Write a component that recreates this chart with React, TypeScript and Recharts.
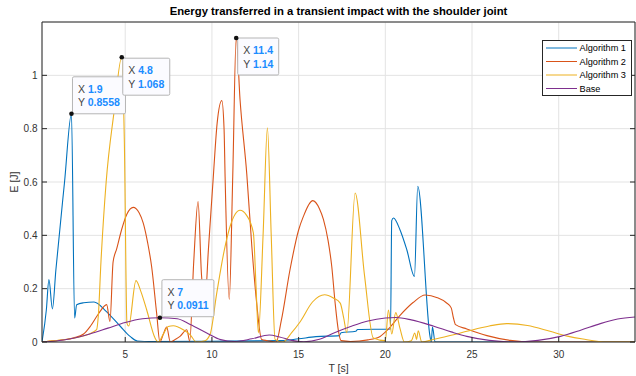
import React from 'react';
import { LineChart, Line, XAxis, YAxis, CartesianGrid, ReferenceDot } from 'recharts';

// axes
const X_DOMAIN: [number, number] = [0.2, 34.4];
const X_TICKS = [5, 10, 15, 20, 25, 30];
const Y_DOMAIN: [number, number] = [0, 1.2];
const Y_TICKS = [0, 0.2, 0.4, 0.6, 0.8, 1];

// [T (s), E (J)]
const ALGORITHM_1: [number, number][] = [
  [0.2, 0], [0.45, 0.12], [0.6, 0.234], [0.8, 0.124], [1.0, 0.27], [1.5, 0.6], [1.9, 0.8558],
  [2.08, 0.09], [2.2, 0.14], [2.6, 0.147], [3.2, 0.15], [3.9, 0.115], [4.7, 0.06], [5.3, 0.02],
  [5.7, 0.004], [6.5, 0.002], [10, 0.003], [14, 0.005], [15, 0.012], [16, 0.02], [17.35, 0.024],
  [17.45, 0.035], [18.3, 0.04], [18.4, 0.047], [20.3, 0.049], [20.37, 0.455], [20.47, 0.465],
  [20.85, 0.42], [21.24, 0.346], [21.68, 0.246], [21.87, 0.584], [22.58, 0.02], [22.65, 0],
  [22.72, 0.056], [22.87, 0], [34.4, 0],
];

const ALGORITHM_2: [number, number][] = [
  [0.2, 0], [1, 0.005], [2, 0.015], [2.6, 0.03], [3.0, 0.06], [3.45, 0.105], [3.93, 0.14],
  [4.12, 0.077], [4.3, 0.3], [4.51, 0.35], [4.79, 0.421], [5.1, 0.48], [5.46, 0.505], [5.8, 0.485],
  [6.04, 0.446], [6.3, 0.37], [6.52, 0.284], [6.81, 0.109], [7.0, 0], [7.2, 0.03], [7.39, 0.056],
  [7.6, 0], [7.9, 0.01], [8.16, 0.021], [8.55, 0.046], [8.72, 0.003], [8.95, 0.3], [9.2, 0.527],
  [9.4, 0.25], [9.6, 0.155], [9.8, 0.35], [10.08, 0.62], [10.3, 0.82], [10.57, 0.905], [10.7, 0.8],
  [10.76, 0.62], [11.0, 0.16], [11.2, 0.62], [11.4, 1.14], [11.62, 0.91], [12.01, 0.63],
  [12.3, 0.36], [12.58, 0.146], [12.87, 0.009], [13.2, 0.005], [13.7, 0], [14.0, 0.08],
  [14.5, 0.27], [15.0, 0.42], [15.27, 0.47], [15.81, 0.53], [16.2, 0.5], [16.43, 0.46],
  [16.7, 0.38], [16.91, 0.284], [17.1, 0.15], [17.3, 0.04], [17.45, 0.005], [18, 0.002],
  [19, 0.008], [19.7, 0.021], [20.2, 0.05], [20.85, 0.1], [21.6, 0.148], [22.3, 0.176],
  [23.0, 0.166], [23.5, 0.148], [23.8, 0.128], [23.93, 0.09], [24.05, 0.065], [24.7, 0.049],
  [25.86, 0.024], [27.2, 0.006], [28.5, 0], [34.4, 0],
];

const ALGORITHM_3: [number, number][] = [
  [0.2, 0], [1, 0.005], [2, 0.014], [2.8, 0.027], [3.35, 0.046], [3.45, 0.1], [3.6, 0.3],
  [3.9, 0.6], [4.35, 0.86], [4.8, 1.068], [4.95, 0.75], [5.1, 0.07], [5.2, 0.06], [5.62, 0.23],
  [5.9, 0.19], [6.24, 0.12], [6.72, 0.015], [6.9, 0], [7.2, 0.03], [7.48, 0.058], [7.77, 0.061],
  [8.35, 0.046], [8.75, 0.027], [9.1, 0], [9.6, 0.005], [9.9, 0.03], [10.28, 0.184], [10.7, 0.34],
  [11.05, 0.434], [11.62, 0.494], [12.0, 0.475], [12.39, 0.409], [12.55, 0.2], [12.68, 0.034],
  [12.95, 0.4], [13.2, 0.803], [13.42, 0.4], [13.64, 0.01], [14.1, 0], [14.6, 0.035],
  [15.08, 0.075], [15.8, 0.15], [16.5, 0.177], [17.0, 0.165], [17.4, 0.146], [17.6, 0.09],
  [17.78, 0.035], [18.26, 0.559], [18.8, 0.25], [19.31, 0.015], [20.0, 0.005], [20.18, 0.12],
  [20.37, 0.03], [20.6, 0.11], [20.85, 0.05], [21.1, 0], [21.5, 0.005], [21.7, 0.034],
  [21.8, 0.01], [21.9, 0.042], [22.1, 0], [22.8, 0.01], [23.8, 0.025], [24.7, 0.04], [26, 0.06],
  [27, 0.069], [28.2, 0.062], [29.5, 0.04], [30.5, 0.022], [31.4, 0.011], [32.8, 0], [34.4, 0],
];

const BASE: [number, number][] = [
  [0.2, 0], [1, 0.004], [2, 0.014], [3, 0.031], [4, 0.052], [5, 0.073], [6, 0.087], [7, 0.0911],
  [8, 0.087], [8.75, 0.066], [9.7, 0.034], [10.5, 0.009], [11.3, 0.002], [12.3, 0.012],
  [13.3, 0.026], [13.9, 0.019], [14.6, 0.006], [15.3, 0.001], [16.2, 0.01], [17, 0.033],
  [18, 0.058], [19, 0.079], [20, 0.09], [20.6, 0.092], [21.5, 0.083], [22.8, 0.059],
  [23.8, 0.038], [24.7, 0.021], [26, 0.006], [27.4, 0], [28.8, 0.006], [30.1, 0.021],
  [31.3, 0.045], [32.4, 0.069], [33.4, 0.086], [34.4, 0.094],
];

const SERIES = [
  { name: 'Algorithm 1', points: ALGORITHM_1, color: '#0072BD' },
  { name: 'Algorithm 2', points: ALGORITHM_2, color: '#D95319' },
  { name: 'Algorithm 3', points: ALGORITHM_3, color: '#EDB120' },
  { name: 'Base', points: BASE, color: '#7E2F8E' },
];

const DATATIPS = [
  { x: 1.9, y: 0.8558 },
  { x: 4.8, y: 1.068 },
  { x: 11.4, y: 1.14 },
  { x: 7, y: 0.0911 },
];
// box offset from the marker, per datatip
const TIP_BOXES = [
  { dx: 1, dy: -37, w: 53 },
  { dx: 1, dy: 1, w: 47 },
  { dx: 1.5, dy: 0, w: 41 },
  { dx: 2, dy: -38, w: 52 },
];

const FONT = '"Liberation Sans", Arial, Helvetica, sans-serif';
const AXIS = '#262626';
const TEXT = '#333333';

const toRows = (pts: [number, number][]) => pts.map(([t, e]) => ({ t, e }));

const BottomTick = (p: any) => (
  <g>
    <line x1={p.x} x2={p.x} y1={p.y} y2={p.y - 5} stroke={AXIS} />
    <text x={p.x} y={p.y + 15.5} textAnchor="middle" fontSize={10} fill={TEXT} fontFamily={FONT}>
      {p.payload.value}
    </text>
  </g>
);
const TopTick = (p: any) => <line x1={p.x} x2={p.x} y1={p.y} y2={p.y + 5} stroke={AXIS} />;
const LeftTick = (p: any) => (
  <g>
    <line x1={p.x} x2={p.x + 5} y1={p.y} y2={p.y} stroke={AXIS} />
    <text x={p.x - 4.5} y={p.y + 3.5} textAnchor="end" fontSize={10} fill={TEXT} fontFamily={FONT}>
      {p.payload.value}
    </text>
  </g>
);
const RightTick = (p: any) => <line x1={p.x} x2={p.x - 5} y1={p.y} y2={p.y} stroke={AXIS} />;

const Datatip = ({ cx, cy, tip, box }: any) => {
  const bx = cx + box.dx;
  const by = cy + box.dy;
  return (
    <g fontFamily={FONT} fontSize={10.5}>
      <rect x={bx} y={by} width={box.w} height={37} rx={1.5} fill="#fbfbff" stroke="#b5b5b5" />
      <text x={bx + 5.5} y={by + 16}>
        <tspan fill="#444">X </tspan>
        <tspan fill="#1a8cff" fontWeight="bold">{String(tip.x)}</tspan>
      </text>
      <text x={bx + 5.5} y={by + 29.5}>
        <tspan fill="#444">Y </tspan>
        <tspan fill="#1a8cff" fontWeight="bold">{String(tip.y)}</tspan>
      </text>
      <circle cx={cx} cy={cy} r={2.3} fill="#111" />
    </g>
  );
};

export default function App() {
  return (
    <div style={{ position: 'absolute', left: 0, top: 0, width: 636, height: 376, background: '#fff' }}>
      <LineChart width={636} height={376} margin={{ top: 0, right: 0, bottom: 0, left: 0 }}>
        <CartesianGrid stroke="#e3e3e3" strokeWidth={1} />
        <XAxis
          dataKey="t"
          type="number"
          domain={X_DOMAIN}
          ticks={X_TICKS}
          allowDataOverflow
          interval={0}
          height={34}
          tickSize={0}
          tickMargin={0}
          tick={<BottomTick />}
          axisLine={{ stroke: AXIS }}
          label={{
            content: (props: any) => {
              const vb = props.viewBox;
              return (
                <text x={vb.x + vb.width / 2} y={vb.y + 30} textAnchor="middle" fontSize={10.5} fill={TEXT} fontFamily={FONT}>
                  T [s]
                </text>
              );
            },
          }}
        />
        <XAxis
          xAxisId="top"
          orientation="top"
          type="number"
          domain={X_DOMAIN}
          ticks={X_TICKS}
          allowDataOverflow
          interval={0}
          height={22}
          tickSize={0}
          tickMargin={0}
          tick={<TopTick />}
          axisLine={{ stroke: AXIS }}
          label={{
            content: (props: any) => {
              const vb = props.viewBox;
              return (
                <text x={vb.x + vb.width / 2} y={vb.y + 15} textAnchor="middle" fontSize={11.3} fontWeight="bold" fill="#000" fontFamily={FONT}>
                  Energy transferred in a transient impact with the shoulder joint
                </text>
              );
            },
          }}
        />
        <YAxis
          type="number"
          domain={Y_DOMAIN}
          ticks={Y_TICKS}
          allowDataOverflow
          interval={0}
          width={42}
          tickSize={0}
          tickMargin={0}
          tick={<LeftTick />}
          axisLine={{ stroke: AXIS }}
          label={{
            content: (props: any) => {
              const vb = props.viewBox;
              const cx = vb.x + 13.5;
              const cy = vb.y + vb.height / 2;
              return (
                <text x={cx} y={cy} transform={`rotate(-90 ${cx} ${cy})`} textAnchor="middle" dominantBaseline="central" fontSize={10.5} fill={TEXT} fontFamily={FONT}>
                  E [J]
                </text>
              );
            },
          }}
        />
        <YAxis
          yAxisId="right"
          orientation="right"
          type="number"
          domain={Y_DOMAIN}
          ticks={Y_TICKS}
          allowDataOverflow
          interval={0}
          width={1}
          tickSize={0}
          tickMargin={0}
          tick={<RightTick />}
          axisLine={{ stroke: AXIS }}
        />
        {SERIES.map((s) => (
          <Line
            key={s.name}
            data={toRows(s.points)}
            dataKey="e"
            name={s.name}
            type="monotone"
            stroke={s.color}
            strokeWidth={1.1}
            dot={false}
            activeDot={false}
            isAnimationActive={false}
          />
        ))}
        {DATATIPS.map((tip, i) => (
          <ReferenceDot
            key={`tip-${i}`}
            x={tip.x}
            y={tip.y}
            r={2}
            ifOverflow="visible"
            shape={(p: any) => <Datatip cx={p.cx} cy={p.cy} tip={tip} box={TIP_BOXES[i]} />}
          />
        ))}
      </LineChart>
      <svg style={{ position: 'absolute', left: 542, top: 40 }} width={90} height={56}>
        <rect x={0.5} y={0.5} width={89} height={55} fill="#fff" stroke={AXIS} />
        {SERIES.map((s, i) => (
          <g key={s.name}>
            <line x1={4} x2={35} y1={8 + i * 13.5} y2={8 + i * 13.5} stroke={s.color} />
            <text x={37.5} y={11.3 + i * 13.5} fontSize={9.2} fill="#000" fontFamily={FONT}>
              {s.name}
            </text>
          </g>
        ))}
      </svg>
    </div>
  );
}
